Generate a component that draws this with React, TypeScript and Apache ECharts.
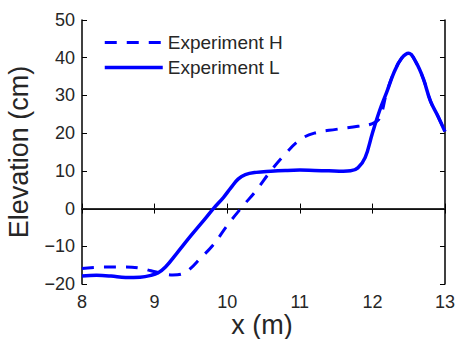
import React, { useEffect, useRef } from "react";
import * as echarts from "echarts";

const xTicks = [8, 9, 10, 11, 12, 13];
const yTicks = [-20, -10, 0, 10, 20, 30, 40, 50];

const lX = [8, 8.2, 8.4, 8.6, 8.8, 8.95, 9.05, 9.15, 9.3, 9.5, 9.7, 9.81, 9.95, 10.05, 10.15, 10.25, 10.4, 10.6, 10.8, 11.0, 11.2, 11.4, 11.6, 11.7, 11.8, 11.9, 12.0, 12.1, 12.2, 12.3, 12.4, 12.5, 12.6, 12.7, 12.8, 12.9, 13.0];
const lY = [-17.9, -17.7, -17.9, -18.3, -18.2, -17.7, -17.0, -15.5, -12, -7.2, -2.6, 0, 3, 5.5, 7.8, 9.0, 9.6, 9.9, 10.1, 10.2, 10.1, 10.0, 9.9, 10.0, 10.8, 13.5, 20, 26, 31, 36.2, 39.8, 41.2, 38.8, 34.5, 28.5, 24.6, 20.4];

const hX = [8, 8.3, 8.6, 8.8, 8.95, 9.1, 9.25, 9.4, 9.5, 9.6, 9.8, 10.0, 10.2, 10.4, 10.6, 10.8, 11.0, 11.2, 11.5, 11.8, 12.0, 12.1, 12.2, 12.3, 12.4, 12.5, 12.6, 12.7, 12.8, 12.9, 13.0];
const hY = [-15.9, -15.5, -15.5, -15.8, -16.5, -17.2, -17.6, -17.2, -15.8, -13.8, -9.8, -4.5, 0.3, 4.8, 10, 14.5, 18.2, 20, 21, 21.8, 22.5, 24, 31, 36.2, 39.8, 41.2, 38.8, 34.5, 28.5, 24.6, 20.4];

const seriesNames = ["Experiment H", "Experiment L"];
const xTitle = "x (m)";
const yTitle = "Elevation (cm)";

const FONT = "'Liberation Sans', Arial, Helvetica, sans-serif";
const TXT = "#262626";

export default function App() {
  const ref = useRef<HTMLDivElement>(null);
  useEffect(() => {
    if (!ref.current) return;
    const chart = echarts.init(ref.current, null, { renderer: "svg" });
    const axisLine = { show: true, lineStyle: { color: "#000", width: 1.5 } };
    const tick = { show: true, inside: true, length: 5, lineStyle: { color: "#000", width: 1 } };
    chart.setOption({
      animation: false,
      backgroundColor: "#fff",
      grid: { left: 82, top: 20, right: 13, bottom: 55 },
      legend: {
        data: [
          { name: seriesNames[0], lineStyle: { width: 3, type: [12, 10] } },
          { name: seriesNames[1], lineStyle: { width: 3.5 } },
        ],
        orient: "vertical",
        left: 103,
        top: 33,
        padding: 0,
        itemWidth: 58,
        itemHeight: 14,
        itemGap: 6,
        itemStyle: { opacity: 0 },
        textStyle: { fontFamily: FONT, fontSize: 19, color: TXT, lineHeight: 19 },
      },
      xAxis: [
        {
          type: "value", min: 8, max: 13, interval: 1, position: "bottom",
          axisLine, axisTick: tick, splitLine: { show: false },
          axisLabel: { fontFamily: FONT, fontSize: 18, color: TXT, margin: 9, formatter: (v: number) => (xTicks.includes(v) ? String(v) : "") },
        },
        {
          type: "value", min: 8, max: 13, interval: 1, position: "top",
          axisLine, axisTick: tick, splitLine: { show: false }, axisLabel: { show: false },
        },
      ],
      yAxis: [
        {
          type: "value", min: -20, max: 50, interval: 10, position: "left",
          axisLine, axisTick: tick, splitLine: { show: false },
          axisLabel: { fontFamily: FONT, fontSize: 18, color: TXT, margin: 7, formatter: (v: number) => (yTicks.includes(v) ? (v < 0 ? "\u2212" + Math.abs(v) : String(v)) : "") },
        },
        {
          type: "value", min: -20, max: 50, interval: 10, position: "right",
          axisLine, axisTick: tick, splitLine: { show: false }, axisLabel: { show: false },
        },
      ],
      graphic: [
        { type: "text", x: 19, y: 152, rotation: Math.PI / 2, style: { text: yTitle, fontFamily: FONT, fontSize: 27, fill: TXT, align: "center", verticalAlign: "middle" } },
        { type: "text", x: 262, y: 325, style: { text: xTitle, fontFamily: FONT, fontSize: 27, fill: TXT, align: "center", verticalAlign: "middle" } },
      ],
      series: [
        {
          name: "zero", type: "line", data: [[8, 0], [13, 0]], symbol: "none", silent: true,
          lineStyle: { color: "#555", width: 0.5 }, z: 1,
        },
        {
          name: seriesNames[0], type: "line", data: hX.map((x, i) => [x, hY[i]]), symbol: "none", smooth: 0.4,
          lineStyle: { color: "#0000ff", width: 3, type: [12, 10] }, itemStyle: { color: "#0000ff" }, z: 2,
        },
        {
          name: seriesNames[1], type: "line", data: lX.map((x, i) => [x, lY[i]]), symbol: "none", smooth: 0.4,
          lineStyle: { color: "#0000ff", width: 3.5 }, itemStyle: { color: "#0000ff" }, z: 3,
        },
      ],
    });
    return () => chart.dispose();
  }, []);
  return <div ref={ref} style={{ width: 458, height: 339, position: "absolute", left: 0, top: 0 }} />;
}
